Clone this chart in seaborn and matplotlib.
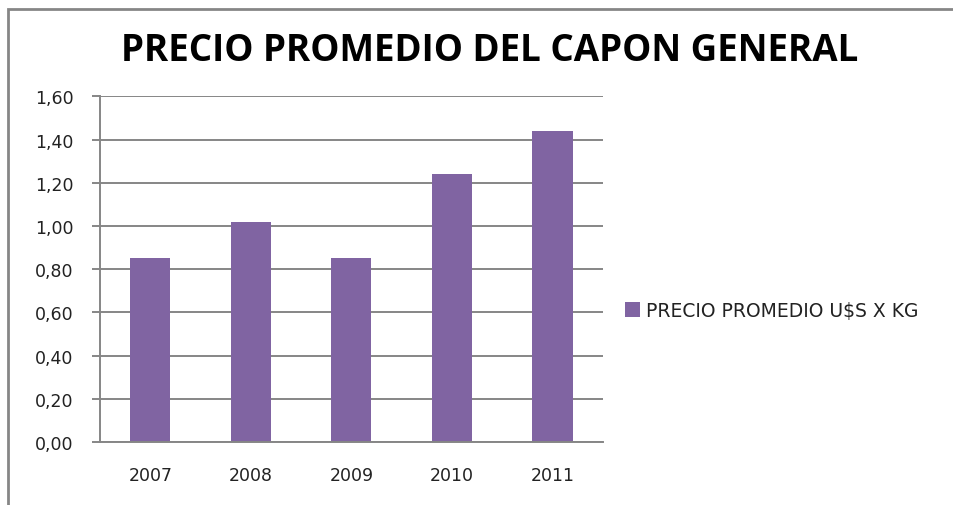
import pandas as pd
import seaborn as sns
import matplotlib.pyplot as plt
from matplotlib.ticker import FuncFormatter, MultipleLocator
from matplotlib.patches import Rectangle

# datos del grafico
anios = ["2007", "2008", "2009", "2010", "2011"]
precios = [0.85, 1.02, 0.85, 1.24, 1.44]
titulo = "PRECIO PROMEDIO DEL CAPON GENERAL"
serie = "PRECIO PROMEDIO U$S X KG"


def main():
    sns.set_theme(style="white")
    plt.rcParams['font.family'] = ['DejaVu Sans']

    df = pd.DataFrame({"anio": anios, "precio": precios})

    fig = plt.figure(figsize=(9.54, 5.06), dpi=100)
    ax = fig.add_axes([0.1048, 0.1245, 0.527, 0.6832])

    gris = "#868686"
    violeta = "#8064A2"
    texto = "#222222"

    sns.barplot(data=df, x="anio", y="precio", color=violeta, width=0.4,
                saturation=1, linewidth=0, ax=ax, label=serie)

    ax.set_ylim(0, 1.6)
    ax.set_xlim(-0.5, len(anios) - 0.5)
    ax.yaxis.set_major_locator(MultipleLocator(0.2))
    ax.yaxis.set_major_formatter(FuncFormatter(lambda v, p: f"{v:.2f}".replace(".", ",")))

    ax.grid(axis="y", color=gris, linewidth=1.4)
    ax.set_axisbelow(True)
    for s in ["top", "right"]:
        ax.spines[s].set_visible(False)
    for s in ["left", "bottom"]:
        ax.spines[s].set_color(gris)
        ax.spines[s].set_linewidth(1.4)

    # marcas del eje x entre categorias, como en Excel
    ax.set_xticks([i - 0.5 for i in range(len(anios) + 1)], minor=True)
    ax.tick_params(axis="x", which="major", length=0, pad=17, labelsize=12.5, labelcolor=texto)
    ax.tick_params(axis="x", which="minor", length=5, width=1.4, color=gris, direction="out")
    ax.tick_params(axis="y", length=6, width=1.4, color=gris, left=True, pad=13,
                   labelsize=12.5, labelcolor=texto)
    ax.set_xlabel("")
    ax.set_ylabel("")

    fig.text(0.513, 0.9, titulo, ha="center", va="center", fontsize=26.5,
             fontweight="bold", color="black", family=["Open Sans", "DejaVu Sans"])

    leg = ax.legend(loc="center left", bbox_to_anchor=(1.01, 0.38), frameon=False,
                    fontsize=13.5, handlelength=0.8, handleheight=0.8, handletextpad=0.35)
    for t in leg.get_texts():
        t.set_color(texto)

    # marco exterior del grafico
    fig.patches.append(Rectangle((8 / 954, -0.1), 1.2, 0.1 + (506 - 10) / 506,
                                 transform=fig.transFigure, fill=False,
                                 edgecolor=gris, linewidth=2.0))

    fig.savefig("out.png", dpi=100)
    plt.close(fig)


if __name__ == "__main__":
    main()
